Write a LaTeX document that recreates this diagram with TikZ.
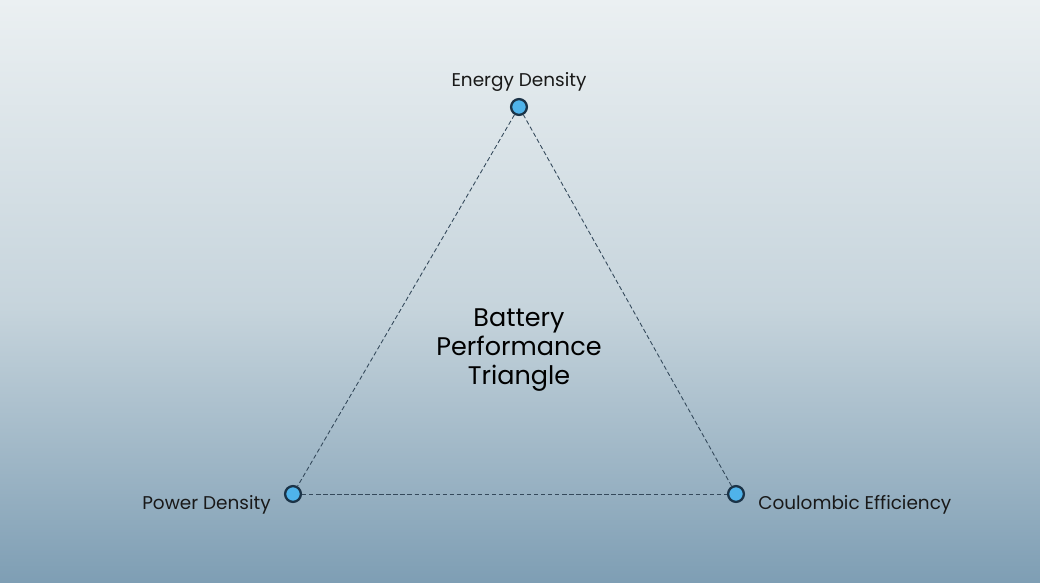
\documentclass[tikz,border=0pt]{standalone}
\usepackage{fontspec}
\setmainfont{Poppins}
\usetikzlibrary{positioning}
\definecolor{bgtop}{HTML}{EBF0F2}
\definecolor{bgmid}{HTML}{C6D4DC}
\definecolor{bgbot}{HTML}{7E9EB4}
\definecolor{dotfill}{HTML}{4FB3EA}
\definecolor{dotline}{HTML}{1B3347}
\definecolor{edgecol}{HTML}{34495B}
\tikzset{
    vertex/.style={circle,fill=dotfill,draw=dotline,line width=1.3pt,minimum size=9pt,inner sep=0pt},
    side/.style={edgecol,line width=0.5pt,dash pattern=on 2.5pt off 1.5pt},
    vlabel/.style={font=\fontsize{10.5}{12}\selectfont,text=black!90},
}
\begin{document}
\begin{tikzpicture}
    \shade[top color=bgtop,bottom color=bgmid] (0,5.5) rectangle (20.8,11.66);
    \shade[top color=bgmid,bottom color=bgbot] (0,0) rectangle (20.8,5.51);
    \useasboundingbox (0,0) rectangle (20.8,11.66);
    \node[vertex] (energy) at (10.38,9.52) {};
    \node[vertex] (power) at (5.86,1.78) {};
    \node[vertex] (coul) at (14.72,1.78) {};
    \draw[side] (energy) -- (power);
    \draw[side] (power) -- (coul);
    \draw[side] (coul) -- (energy);
    \node[vlabel, above=0pt of energy] {Energy Density};
    \node[vlabel, left=4pt of power, yshift=-6pt] {Power Density};
    \node[vlabel, right=4pt of coul, yshift=-6pt] {Coulombic Efficiency};
    \node[align=center,font=\fontsize{14.5}{16.5}\selectfont] (title) at (10.38,4.66) {Battery\\Performance\\Triangle};
\end{tikzpicture}
\end{document}
